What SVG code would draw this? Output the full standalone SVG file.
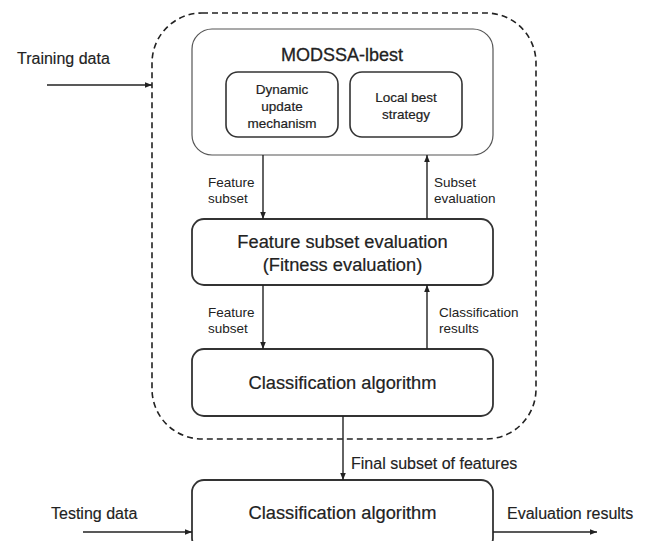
<svg xmlns="http://www.w3.org/2000/svg" width="649" height="541" viewBox="0 0 649 541">
<defs>
<marker id="ah" viewBox="0 0 10 10" refX="10" refY="5" markerWidth="7" markerHeight="7" orient="auto" markerUnits="userSpaceOnUse"><path d="M0,1 L10,5 L0,9 z" fill="#222"/></marker>
<style>
.box{fill:#fff;stroke:#333;stroke-width:1.8}
.obox{fill:#fff;stroke:#555;stroke-width:1.2}
.ibox{fill:#fff;stroke:#333;stroke-width:1.6}
.dash{fill:none;stroke:#222;stroke-width:1.6;stroke-dasharray:6,4}
.ln{fill:none;stroke:#222;stroke-width:1.4;marker-end:url(#ah)}
text{font-family:"Liberation Sans",Arial,sans-serif;fill:#222}
.big{font-size:18.3px;text-anchor:middle;stroke:#222;stroke-width:0.2}
.title{font-size:18px;text-anchor:middle;stroke:#222;stroke-width:0.3}
.inner{font-size:13.5px;text-anchor:middle;stroke:#222;stroke-width:0.2}
.lbl{font-size:13.5px}
.io{font-size:16px;stroke:#222;stroke-width:0.15}
</style>
</defs>
<rect class="dash" x="152" y="13" width="384" height="426" rx="50" ry="50"/>
<g id="modssa">
<rect class="obox" x="192" y="29" width="301" height="126" rx="20"/>
<text class="title" x="342" y="61">MODSSA-lbest</text>
</g>
<g id="dynamic">
<rect class="ibox" x="226" y="72" width="112" height="65" rx="12"/>
<text class="inner" x="282" y="94">Dynamic</text>
<text class="inner" x="282" y="111">update</text>
<text class="inner" x="282" y="128">mechanism</text>
</g>
<g id="localbest">
<rect class="ibox" x="350" y="72" width="112" height="65" rx="12"/>
<text class="inner" x="406" y="102">Local best</text>
<text class="inner" x="406" y="119">strategy</text>
</g>
<g id="fse">
<rect class="box" x="192" y="219" width="301" height="66" rx="12"/>
<text class="big" x="342.5" y="248">Feature subset evaluation</text>
<text class="big" x="342.5" y="271">(Fitness evaluation)</text>
</g>
<g id="clf1">
<rect class="box" x="192" y="349" width="301" height="67" rx="12"/>
<text class="big" x="342.5" y="389">Classification algorithm</text>
</g>
<g id="clf2">
<rect class="box" x="192" y="480" width="301" height="70" rx="12"/>
<text class="big" x="342.5" y="519">Classification algorithm</text>
</g>
<g id="connectors">
<line class="ln" x1="47" y1="85" x2="152" y2="85"/>
<line class="ln" x1="263" y1="155" x2="263" y2="219"/>
<line class="ln" x1="427" y1="219" x2="427" y2="155"/>
<line class="ln" x1="263" y1="285" x2="263" y2="349"/>
<line class="ln" x1="427" y1="349" x2="427" y2="285"/>
<line class="ln" x1="343" y1="416" x2="343" y2="480"/>
<line class="ln" x1="83" y1="532" x2="192" y2="532"/>
<line class="ln" x1="493" y1="532" x2="597" y2="532"/>
</g>
<g id="labels">
<text class="io" x="17" y="64">Training data</text>
<text class="lbl" x="208" y="187">Feature</text>
<text class="lbl" x="208" y="203">subset</text>
<text class="lbl" x="434" y="187">Subset</text>
<text class="lbl" x="434" y="203">evaluation</text>
<text class="lbl" x="208" y="317">Feature</text>
<text class="lbl" x="208" y="333">subset</text>
<text class="lbl" x="439" y="317">Classification</text>
<text class="lbl" x="439" y="333">results</text>
<text class="io" x="351" y="469">Final subset of features</text>
<text class="io" x="51" y="519">Testing data</text>
<text class="io" x="507" y="519">Evaluation results</text>
</g>
</svg>
